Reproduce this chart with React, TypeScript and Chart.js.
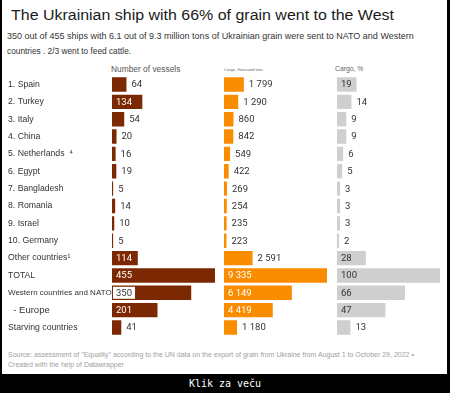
import React, { useEffect, useRef } from "react";
import { Chart, registerables } from "chart.js";

Chart.register(...registerables);

// ---------- data ----------
const categories = [
  "1. Spain",
  "2. Turkey",
  "3. Italy",
  "4. China",
  "5. Netherlands  \u2074",
  "6. Egypt",
  "7. Bangladesh",
  "8. Romania",
  "9. Israel",
  "10. Germany",
  "Other countries\u00b9",
  "TOTAL",
  "Western countries and NATO",
  "  - Europe",
  "Starving countries",
];
const vessels = [64, 134, 54, 20, 16, 19, 5, 14, 10, 5, 114, 455, 350, 201, 41];
const cargoThousandTons = [1799, 1290, 860, 842, 549, 422, 269, 254, 235, 223, 2591, 9335, 6149, 4419, 1180];
const cargoPercent = [19, 14, 9, 9, 6, 5, 3, 3, 3, 2, 28, 100, 66, 47, 13];
const columnTitles = ["Number of vessels", "Cargo, thousand tons", "Cargo, %"];

const TITLE = "The Ukrainian ship with 66% of grain went to the West";
const SUBTITLE_1 = "350 out of 455 ships with 6.1 out of 9.3 million tons of Ukrainian grain were sent to NATO and Western";
const SUBTITLE_2 = "countries . 2/3 went to feed cattle.";
const SOURCE_1 =
  'Source: assessment of "Equality" according to the UN data on the export of grain from Ukraine from August 1 to October 29, 2022 \u2022';
const SOURCE_2 = "Created with the help of Datawrapper";
const FOOT = "Klik za ve\u010du";

const SANS = "'Liberation Sans', Arial, sans-serif";
const VALUE_FONT = "9.5px Roboto, 'Liberation Sans', sans-serif";

function fmt(v: number): string {
  return String(v).replace(/\B(?=(\d{3})+(?!\d))/g, " ");
}

function yFontSize(i: number): number {
  if (i === 12) return 8;
  if (i === 13) return 9.5;
  return 8.7;
}
function yFont(i: number): string {
  return `${yFontSize(i)}px ${SANS}`;
}

function makeValueLabels(insideColor: string) {
  return {
    id: "valueLabels",
    afterDatasetsDraw(chart: any) {
      const ctx = chart.ctx as CanvasRenderingContext2D;
      const meta = chart.getDatasetMeta(0);
      const data = chart.data.datasets[0].data as number[];
      const yScale = chart.scales.y;
      ctx.save();
      ctx.textBaseline = "middle";
      ctx.textAlign = "left";
      meta.data.forEach((bar: any, i: number) => {
        const txt = fmt(data[i]);
        ctx.font = VALUE_FONT;
        const w = ctx.measureText(txt).width;
        const barW = bar.x - bar.base;
        // does the row label (only on the first column) run into the bar?
        let overlap = false;
        if (yScale.options.display) {
          ctx.font = yFont(i);
          const lw = ctx.measureText(String(chart.data.labels[i])).width;
          overlap = yScale.left + lw > chart.chartArea.left - 2;
          ctx.font = VALUE_FONT;
        }
        if (w + 8 <= barW) {
          if (overlap) {
            ctx.fillStyle = "#ffffff";
            ctx.fillRect(bar.base + 1, bar.y - 6, w + 6, 12);
            ctx.fillStyle = "#333333";
          } else {
            ctx.fillStyle = insideColor;
          }
          ctx.fillText(txt, bar.base + 4, bar.y + 0.5);
        } else {
          ctx.fillStyle = "#333333";
          ctx.fillText(txt, bar.x + 5, bar.y + 0.5);
        }
      });
      ctx.restore();
    },
  };
}

type ColProps = {
  values: number[];
  color: string;
  insideColor: string;
  max: number;
  left: number;
  width: number;
  padLeft: number;
  padRight: number;
  showLabels: boolean;
};

const TOP = 60;
const HEIGHT = 290;

function BarColumn(p: ColProps) {
  const ref = useRef<HTMLCanvasElement>(null);
  useEffect(() => {
    const yScale: any = {
      display: p.showLabels,
      grid: { display: false, drawTicks: false },
      border: { display: false },
      ticks: {
        autoSkip: false,
        crossAlign: "far",
        padding: 0,
        color: "#333333",
        font: (ctx: any) => ({ family: SANS, size: yFontSize(ctx.index) }),
      },
    };
    if (p.showLabels) {
      yScale.afterFit = (s: any) => {
        s.width = 104;
      };
    }
    const chart = new Chart(ref.current as HTMLCanvasElement, {
      type: "bar",
      data: {
        labels: categories,
        datasets: [
          {
            data: p.values,
            backgroundColor: p.color,
            borderWidth: 0,
            barPercentage: 0.83,
            categoryPercentage: 1,
          },
        ],
      },
      options: {
        indexAxis: "y",
        responsive: false,
        animation: false,
        layout: { padding: { top: 15.8, bottom: 13.8, left: p.padLeft, right: p.padRight } },
        plugins: { legend: { display: false }, tooltip: { enabled: false }, title: { display: false } },
        scales: {
          x: { display: false, min: 0, max: p.max },
          y: yScale,
        },
      } as any,
      plugins: [makeValueLabels(p.insideColor)],
    });
    return () => chart.destroy();
  }, []);
  return (
    <canvas
      ref={ref}
      width={p.width}
      height={HEIGHT}
      style={{ position: "absolute", left: p.left, top: TOP, width: p.width, height: HEIGHT }}
    />
  );
}

const abs = (left: number, top: number, extra: React.CSSProperties = {}): React.CSSProperties => ({
  position: "absolute",
  left,
  top,
  whiteSpace: "nowrap",
  fontFamily: SANS,
  lineHeight: 1,
  ...extra,
});

export default function App() {
  return (
    <div
      style={{
        position: "fixed",
        left: 0,
        top: 0,
        width: 450,
        height: 393,
        background: "#000",
        overflow: "hidden",
      }}
    >
      <div style={{ position: "absolute", left: 2, top: 0, width: 445, height: 374, background: "#fff" }} />
      <div
        style={abs(11, 8, {
          fontSize: 14,
          color: "#1a1a1a",
          transform: "scaleX(1.14)",
          transformOrigin: "left top",
        })}
      >
        {TITLE}
      </div>
      <div style={abs(7, 31.5, { fontSize: 9, color: "#333" })}>{SUBTITLE_1}</div>
      <div style={abs(7, 47, { fontSize: 8.3, color: "#333" })}>{SUBTITLE_2}</div>
      <div style={abs(111, 64.5, { fontSize: 8.4, color: "#555" })}>{columnTitles[0]}</div>
      <div style={abs(224, 67.5, { fontSize: 4.1, color: "#666" })}>{columnTitles[1]}</div>
      <div style={abs(335, 66, { fontSize: 6.8, color: "#666" })}>{columnTitles[2]}</div>

      <BarColumn
        values={vessels}
        color="#7c2903"
        insideColor="#ffffff"
        max={Math.max(...vessels)}
        left={0}
        width={224}
        padLeft={8}
        padRight={9}
        showLabels={true}
      />
      <BarColumn
        values={cargoThousandTons}
        color="#fa8c00"
        insideColor="#ffffff"
        max={Math.max(...cargoThousandTons)}
        left={224}
        width={110}
        padLeft={0}
        padRight={7}
        showLabels={false}
      />
      <BarColumn
        values={cargoPercent}
        color="#cfcfcf"
        insideColor="#333333"
        max={Math.max(...cargoPercent)}
        left={337}
        width={110}
        padLeft={0}
        padRight={7}
        showLabels={false}
      />

      <div style={abs(8, 351, { fontSize: 7, color: "#a0a0a0" })}>{SOURCE_1}</div>
      <div style={abs(8, 360.5, { fontSize: 7, color: "#a0a0a0" })}>{SOURCE_2}</div>
      <div
        style={{
          position: "absolute",
          left: 0,
          width: 450,
          top: 379,
          textAlign: "center",
          fontFamily: "'DejaVu Sans Mono', monospace",
          fontSize: 10,
          lineHeight: 1,
          color: "#fff",
        }}
      >
        {FOOT}
      </div>
    </div>
  );
}
